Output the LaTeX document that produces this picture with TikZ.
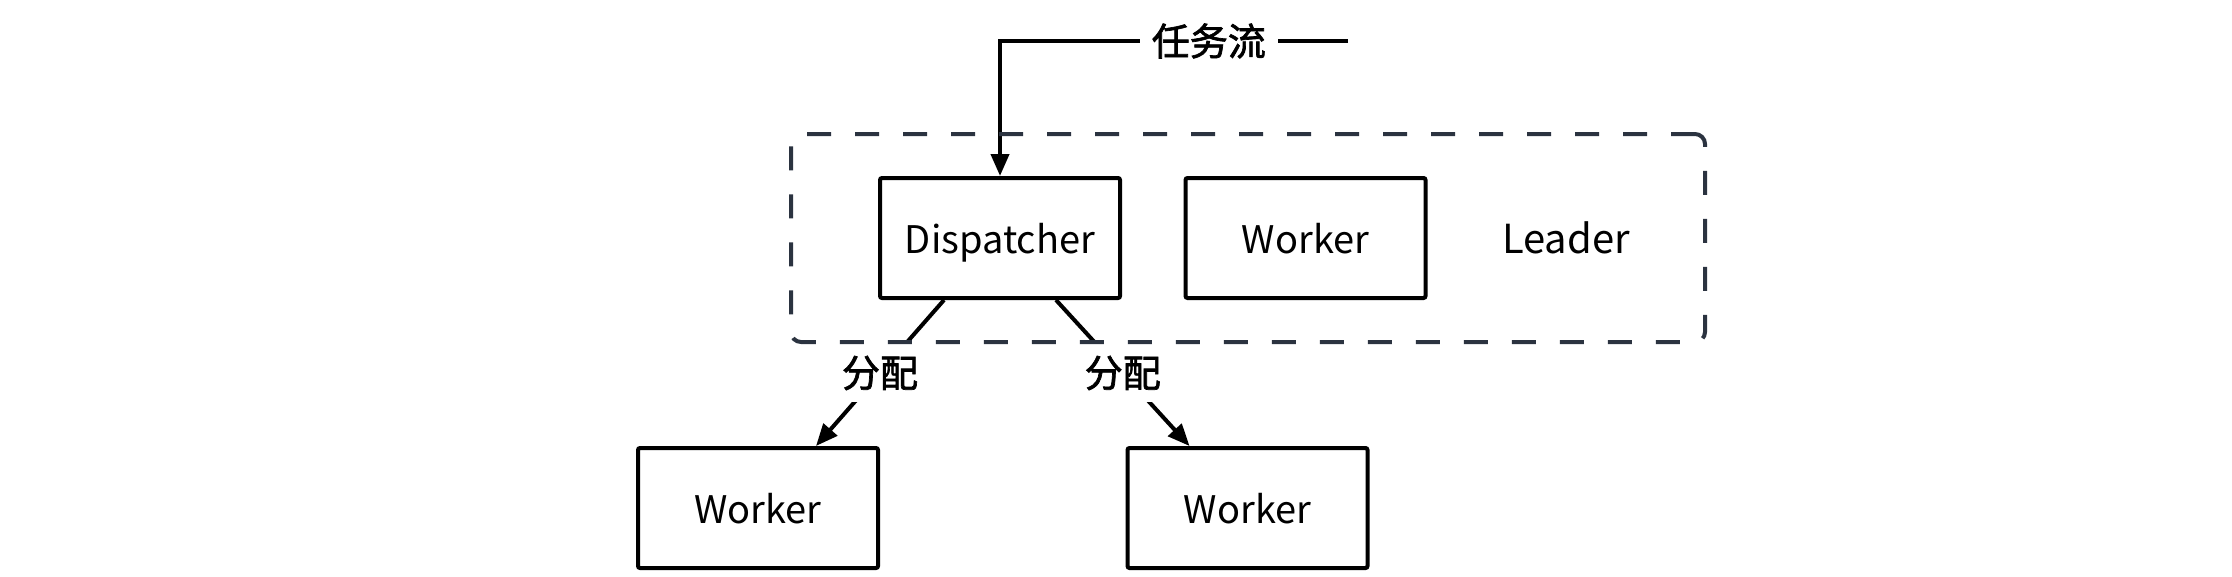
\documentclass[tikz,border=0pt]{standalone}
\usepackage{fontspec}
\setmainfont{Noto Sans CJK SC}
\newfontfamily\medfont[FakeBold=1.8]{Noto Sans CJK SC}
\usetikzlibrary{arrows.meta,calc}
\definecolor{grpcol}{HTML}{2B3340}
\begin{document}
\begin{tikzpicture}[x=1pt,y=-1pt,
  box/.style={draw=black, line width=4pt, rounded corners=2pt, minimum width=240pt, minimum height=120pt, font=\fontsize{38}{44}\selectfont, inner sep=0pt, text depth=0pt},
  lbl/.style={fill=white, font=\fontsize{38}{44}\selectfont\medfont, inner sep=12pt},
  conn/.style={line width=4pt, -{Triangle[length=22pt,width=18pt]}},
  group/.style={draw=grpcol, line width=4pt, dash pattern=on 24pt off 24pt, rounded corners=10pt, minimum width=914pt, minimum height=208pt, inner sep=0pt}]
\useasboundingbox (0,0) rectangle (2232,576);
\node[box] (disp) at (1000,238) {Dispatcher};
\node[box] (wtop) at (1305.5,238) {Worker};
\node[font=\fontsize{40}{46}\selectfont] (leader) at (1566,238) {Leader};
\node[box] (w1) at (758,508) {Worker};
\node[box] (w2) at (1247.5,508) {Worker};
\coordinate (src) at (1348,41);
\draw[conn] (src) -- node[lbl,pos=0.4]{任务流} (src -| disp.north) -- (disp.north);
\draw[conn] ([xshift=-56pt]disp.south) -- node[lbl]{分配} ([xshift=58pt]w1.north);
\draw[conn] ([xshift=56pt]disp.south) -- node[lbl]{分配} ([xshift=-58pt]w2.north);
\node[group] (grp) at (1248,238) {};
\end{tikzpicture}
\end{document}
